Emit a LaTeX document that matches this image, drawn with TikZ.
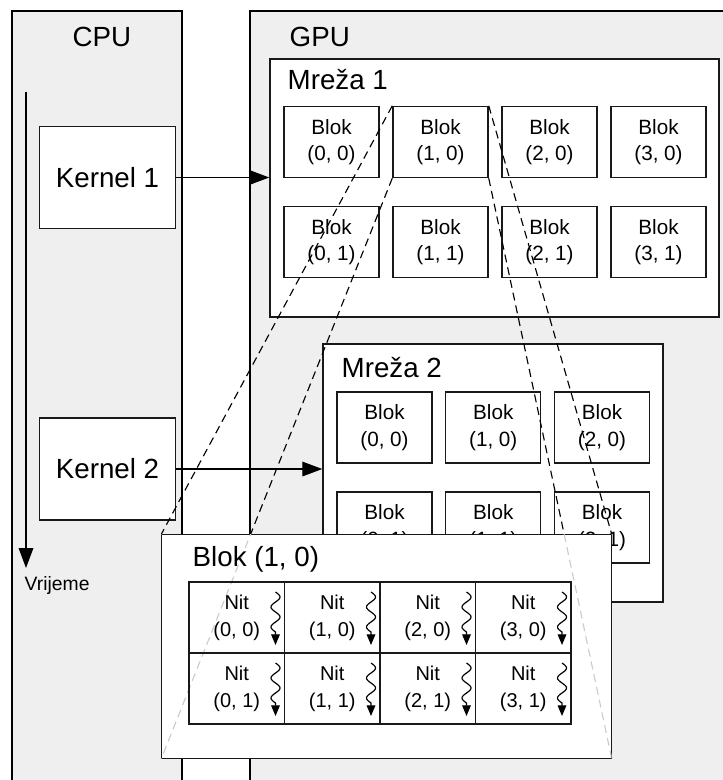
\documentclass[tikz,border=0pt]{standalone}
\usepackage{fontspec}
\setmainfont{Liberation Sans}
\usetikzlibrary{arrows.meta}
\definecolor{panelgray}{HTML}{EFEFEF}
\definecolor{ghostgray}{HTML}{CCCCCC}

\begin{document}
\begin{tikzpicture}[x=0.75pt, y=-0.75pt,
    box/.style 2 args={draw=black!90, line width=1.1pt, fill=white, inner sep=0pt,
      minimum width=#1*0.75pt, minimum height=#2*0.75pt},
    blok/.style={box={95}{71}, align=center, font=\fontsize{15.5}{20}\selectfont},
    nit/.style={box={95.5}{71}, fill=none, align=center, font=\fontsize{15}{20}\selectfont},
    big/.style={font=\fontsize{20.8}{25}\selectfont},
    arr/.style={-{Triangle[length=15pt, width=11pt]}, line width=0.9pt},
    squig/.style={-{Triangle[length=8pt, width=6.5pt]}, line width=0.9pt},
    zoomline/.style={dash pattern=on 6pt off 3.75pt, line width=0.85pt}]
    \useasboundingbox (0,0) rectangle (723,780);
    \clip (0,0) rectangle (723,780);

    % CPU i GPU
    \draw[fill=panelgray, line width=2pt] (12,11) rectangle (182,800);
    \draw[fill=panelgray, line width=2pt] (250,11) rectangle (740,800);
    \node[big, anchor=base] (cpu) at (102,46.7) {CPU};
    \node[big, anchor=base west] (gpu) at (285,46.7) {GPU};

    % mreze
    \node[box={449}{258}] (m1) at (494.5,188) {};
    \node[big, anchor=base west] at (283,90) {Mreža 1};
    \foreach \i in {0,...,3} \foreach \j in {0,1}
      \node[blok] (a\i\j) at (331.5+109*\i, 142+100*\j) {Blok\\(\i, \j)};

    \node[box={340}{258}] (m2) at (493,473) {};
    \node[big, anchor=base west] at (337,377) {Mreža 2};
    \foreach \i in {0,1,2} \foreach \j in {0,1}
      \node[blok] (b\i\j) at (384.5+108.75*\i, 427.5+100*\j) {Blok\\(\i, \j)};

    % kerneli
    \node[box={136}{102}, big] (k1) at (107.5,177.5) {Kernel 1};
    \node[box={136}{102}, big] (k2) at (107.5,469) {Kernel 2};
    \draw[arr] (k1) -- (k1 -| m1.west);
    \draw[arr] (k2) -- (k2 -| m2.west);

    \coordinate (t0) at (26,92);
    \coordinate (t1) at (26,568);
    \draw[arr] (t0) -- (t1);
    \node[anchor=base west, font=\fontsize{14.5}{16}\selectfont] (vr) at (20,590) {Vrijeme};

    % uvecani blok
    \path node[box={449}{223}, draw=none, fill=none] (blk) at (386.5,646.5) {};
    \foreach \c in {north west, south west, north east, south east}
      \draw[zoomline] (a10.\c) -- (blk.\c);
    \draw[draw=black!90, line width=1.1pt, fill=white] (blk.north west) rectangle (blk.south east);
    \begin{scope}
      \clip (blk.north west) rectangle (blk.south east);
      \foreach \c in {north west, south west, north east, south east}
        \draw[zoomline, ghostgray] (a10.\c) -- (blk.\c);
    \end{scope}
    \node[big, anchor=base west] at (188,566) {Blok (1, 0)};

    \foreach \i in {0,...,3} \foreach \j in {0,1} {
      \node[nit] (n\i\j) at (236.75+95.5*\i, 617.5+71*\j) {Nit\\(\i, \j)};
      \draw[squig] plot[domain=0:40, samples=41, smooth]
        ({275.5+95.5*\i+4.5*sin(\x*18)}, {592+71*\j+\x}) -- ++(0,13);
    }
\end{tikzpicture}
\end{document}
